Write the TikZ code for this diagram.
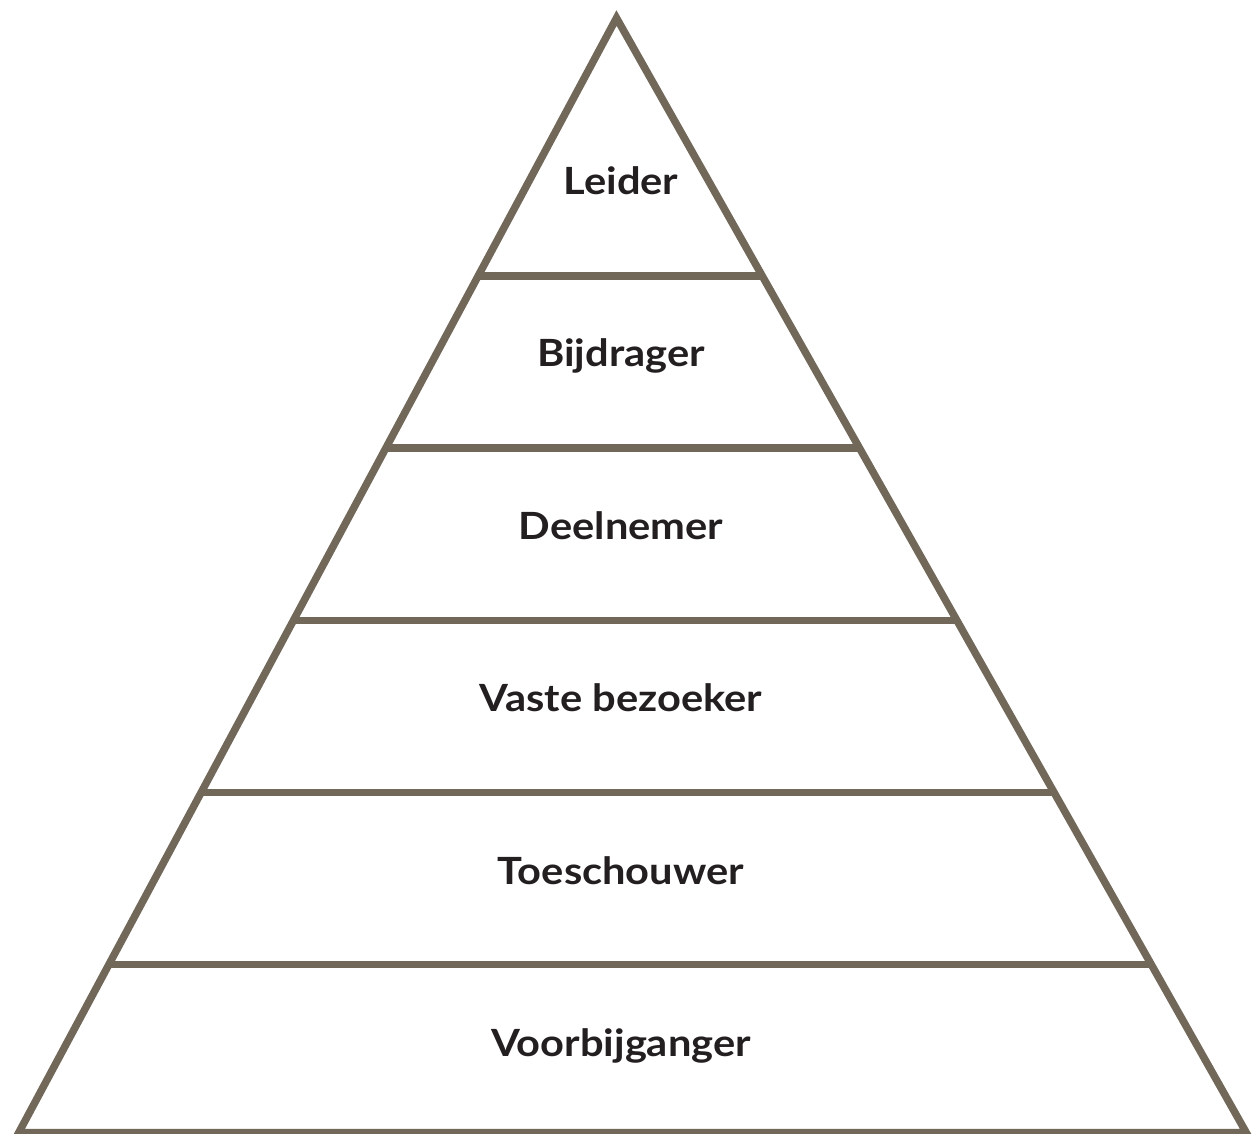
\documentclass[tikz,border=0pt]{standalone}
\usepackage{fontspec}
\setmainfont{Lato}
\newfontfamily\layerfont{Lato}[FakeStretch=1.11]
\usetikzlibrary{calc}
\definecolor{pyrline}{HTML}{72685A}
\definecolor{pyrtext}{HTML}{231F20}
\tikzset{
    layerline/.style={pyrline, line width=4.5pt},
    layerlabel/.style={pyrtext, anchor=base, font=\layerfont\bfseries\fontsize{22.5}{26}\selectfont}
}
\begin{document}
\begin{tikzpicture}[x=0.6pt, y=-0.6pt]
        \useasboundingbox (0,0) rectangle (1253,1133);
        \coordinate (top) at (616.5,18);
        \coordinate (left) at (18.8,1132.5);
        \coordinate (right) at (1246.2,1132.5);
        \draw[layerline, line join=miter] (top) -- (left) -- (right) -- cycle;
        \draw[layerline] ($(top)!0.2316!(left)$) -- ($(top)!0.2316!(right)$);
        \draw[layerline] ($(top)!0.3860!(left)$) -- ($(top)!0.3860!(right)$);
        \draw[layerline] ($(top)!0.5404!(left)$) -- ($(top)!0.5404!(right)$);
        \draw[layerline] ($(top)!0.6948!(left)$) -- ($(top)!0.6948!(right)$);
        \draw[layerline] ($(top)!0.8492!(left)$) -- ($(top)!0.8492!(right)$);
        \node[layerlabel] (leider) at (621,194) {Leider};
        \node[layerlabel] (bijdrager) at (621,366.5) {Bijdrager};
        \node[layerlabel] (deelnemer) at (621,539) {Deelnemer};
        \node[layerlabel] (vaste) at (621,711.5) {Vaste bezoeker};
        \node[layerlabel] (toeschouwer) at (621,884) {Toeschouwer};
        \node[layerlabel] (voorbijganger) at (621,1056.5) {Voorbijganger};
    \end{tikzpicture}
\end{document}
